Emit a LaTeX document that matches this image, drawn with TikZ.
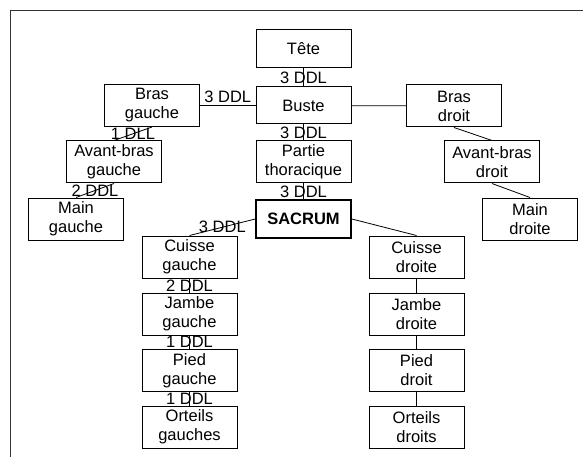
\documentclass[tikz,border=0pt]{standalone}
\usepackage{fontspec}
\setmainfont{Liberation Sans}
\begin{document}
\begin{tikzpicture}[x=1pt,y=-1pt,line width=0.8pt,node distance=57pt,
  every node/.style={font=\fontsize{16.5}{19}\selectfont},
  seg/.style={draw,line width=1pt,align=center,minimum width=95pt,minimum height=42pt,inner sep=0pt}]
  \useasboundingbox (0,0) rectangle (583,457);
  \draw[line width=1pt,black!80] (583,11) -- (10,11) -- (10,457);
  % axe central
  \node[seg,minimum height=38pt] (tete) at (303.5,49) {Tête};
  \node[seg,minimum height=37pt] (buste) [node distance=56.5pt,below of=tete] {Buste};
  \node[seg] (thorax) [node distance=56.5pt,below of=buste] {Partie\\thoracique};
  \node[seg,minimum height=38pt,line width=1.7pt] (sacrum) [below of=thorax] {\textbf{SACRUM}};
  % bras
  \node[seg] (brasg) [node distance=151.5pt,left of=buste] {Bras\\gauche};
  \node[seg] (avbrasg) [node distance=56.5pt,below of=brasg,xshift=-38pt] {Avant-bras\\gauche};
  \node[seg] (maing) [below of=avbrasg,xshift=-38pt] {Main\\gauche};
  \node[seg] (brasd) [node distance=150.5pt,right of=buste,yshift=-0.5pt] {Bras\\droit};
  \node[seg] (avbrasd) [node distance=56pt,below of=brasd,xshift=38pt] {Avant-bras\\droit};
  \node[seg] (maind) [below of=avbrasd,xshift=38pt] {Main\\droite};
  % jambes
  \node[seg] (cuisseg) [node distance=38pt,below of=sacrum,xshift=-114pt] {Cuisse\\gauche};
  \node[seg] (jambeg) [below of=cuisseg] {Jambe\\gauche};
  \node[seg] (piedg) [node distance=56.5pt,below of=jambeg] {Pied\\gauche};
  \node[seg] (orteilsg) [node distance=56.5pt,below of=piedg] {Orteils\\gauches};
  \node[seg] (cuissed) [node distance=38pt,below of=sacrum,xshift=113pt] {Cuisse\\droite};
  \node[seg] (jambed) [below of=cuissed] {Jambe\\droite};
  \node[seg] (piedd) [node distance=56.5pt,below of=jambed] {Pied\\droit};
  \node[seg] (orteilsd) [node distance=56.5pt,below of=piedd] {Orteils\\droits};

  \path (tete) edge node {3 DDL} (buste);
  \path (buste) edge node {3 DDL} (thorax);
  \path (thorax) edge node {3 DDL} (sacrum);
  \path (buste) edge node[above,inner sep=2pt] {3 DDL} (brasg);
  \path (buste) edge (brasd);
  \path (brasg.south) edge node {1 DLL} (avbrasg.north);
  \path (avbrasg.south) edge node {2 DDL} (maing.north);
  \path (brasd.south) edge (avbrasd.north);
  \path (avbrasd.south) edge (maind.north);
  \path (sacrum.west) edge node {3 DDL} (cuisseg.north);
  \path (sacrum.east) edge (cuissed.north);
  \path (cuisseg) edge node {2 DDL} (jambeg);
  \path (jambeg) edge node {1 DDL} (piedg);
  \path (piedg) edge node {1 DDL} (orteilsg);
  \path (cuissed) edge (jambed);
  \path (jambed) edge (piedd);
  \path (piedd) edge (orteilsd);
\end{tikzpicture}
\end{document}
